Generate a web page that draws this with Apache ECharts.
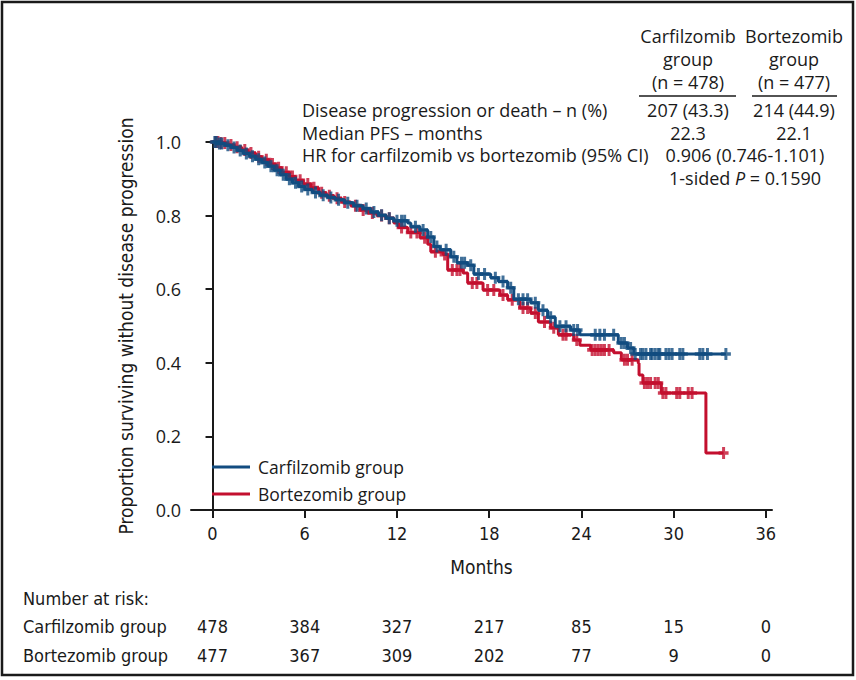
<!DOCTYPE html>
<html><head><meta charset="utf-8">
<script src="https://cdn.jsdelivr.net/npm/echarts@6/dist/echarts.min.js"></script>
<style>html,body{margin:0;padding:0;background:#fff}#c{width:856px;height:680px}</style>
</head><body><div id="c"></div>
<script>
const tickMonths = [0, 6, 12, 18, 24, 30, 36];
const riskCarfilzomib = [478, 384, 327, 217, 85, 15, 0];
const riskBortezomib = [477, 367, 309, 202, 77, 9, 0];
const seriesNames = ['Carfilzomib group', 'Bortezomib group'];

const carfilzomibCurve = [[0,1],[0.3,0.996],[0.8,0.991],[1.2,0.985],[1.6,0.977],[2.0,0.969],[2.4,0.961],[2.8,0.953],[3.2,0.944],[3.6,0.934],[4.0,0.923],[4.4,0.911],[4.8,0.899],[5.2,0.889],[5.6,0.879],[6.0,0.871],[6.5,0.863],[7.0,0.855],[7.5,0.849],[8.0,0.843],[8.6,0.835],[9.2,0.827],[9.8,0.819],[10.3,0.810],[10.8,0.801],[11.3,0.793],[11.8,0.786],[12.7,0.780],[12.9,0.770],[13.5,0.761],[14.0,0.742],[14.4,0.716],[14.8,0.707],[15.5,0.688],[15.9,0.672],[16.6,0.665],[17.0,0.641],[18.1,0.631],[18.6,0.621],[19.2,0.604],[19.6,0.573],[20.7,0.563],[21.2,0.543],[21.8,0.524],[22.3,0.499],[23.3,0.489],[23.9,0.476],[26.4,0.454],[27.0,0.440],[27.4,0.424],[33.4,0.424]];
const bortezomibCurve = [[0,1],[0.4,0.997],[0.9,0.992],[1.4,0.986],[1.9,0.978],[2.3,0.970],[2.8,0.960],[3.2,0.952],[3.7,0.940],[4.1,0.930],[4.5,0.918],[5.0,0.906],[5.4,0.896],[5.9,0.886],[6.4,0.876],[6.9,0.862],[7.4,0.854],[7.9,0.847],[8.4,0.837],[9.0,0.827],[9.6,0.815],[10.1,0.807],[10.7,0.800],[11.3,0.793],[11.8,0.780],[12.1,0.768],[12.7,0.754],[13.5,0.740],[14.0,0.722],[14.2,0.702],[15.0,0.694],[15.3,0.652],[16.3,0.644],[16.6,0.617],[17.6,0.598],[18.7,0.584],[19.2,0.571],[20.0,0.549],[20.7,0.535],[21.2,0.511],[22.0,0.495],[22.5,0.476],[23.5,0.462],[23.9,0.448],[24.6,0.435],[26.1,0.427],[26.6,0.408],[27.7,0.399],[27.75,0.367],[28.0,0.345],[29.2,0.318],[32.1,0.155],[33.25,0.155]];

const carfilzomibCensor = [0.15,0.25,0.45,0.6,1.0,1.4,1.8,2.2,2.6,3.0,3.4,3.8,4.2,4.6,5.0,5.4,5.8,6.2,6.7,7.2,7.7,8.2,8.8,9.4,10.0,10.5,11.0,11.5,12.0,12.3,12.5,13.2,13.7,14.2,14.6,15.2,15.7,16.2,16.4,16.8,17.3,17.7,18.4,18.9,19.4,19.9,20.2,20.5,21.0,21.5,22.0,22.6,23.0,23.5,23.75,24.9,25.2,25.5,26.1,26.6,26.8,27.2,27.5,27.85,28.0,28.2,28.5,28.6,28.8,29.0,29.1,29.5,29.7,29.9,30.4,30.6,31.7,31.9,32.2,33.4];
const bortezomibCensor = [0.2,0.35,0.55,0.8,1.2,1.6,2.1,2.5,3.0,3.5,3.9,4.3,4.8,5.2,5.7,6.2,6.6,7.1,7.6,8.1,8.6,9.3,9.8,10.4,11.0,11.5,12.3,12.9,13.3,13.8,14.5,15.1,15.6,15.9,16.1,16.9,17.2,17.9,18.3,18.9,19.5,20.2,20.5,21.0,21.6,22.2,22.8,23.0,23.7,24.7,24.9,25.1,25.3,25.5,25.8,26.8,27.0,27.3,28.1,28.3,28.5,28.8,29.0,29.3,29.5,30.2,30.4,30.95,31.2,33.25];

const BLUE = '#124c80';
const RED = '#c30f2e';
const INK = '#1a1a1a';
const FONT_MAIN = "'Open Sans', 'Noto Sans', sans-serif";
const FONT_COND = "'Liberation Sans Narrow', 'DejaVu Sans Condensed', 'DejaVu Sans', sans-serif";
const PLUS = 'path://M3.5,0H6.5V3.5H10V6.5H6.5V10H3.5V6.5H0V3.5H3.5Z';

function survAt(curve, t) {
  let s = 1;
  for (const [m, v] of curve) { if (m <= t) s = v; else break; }
  return s;
}
const censorPts = (curve, times) => times.map(t => [t, survAt(curve, t)]);

const chart = echarts.init(document.getElementById('c'), null, {renderer: 'svg'});

const option = {
  animation: false,
  backgroundColor: '#fff',
  grid: {left: 191, right: 84, top: 142, bottom: 170},
  legend: {
    data: seriesNames,
    orient: 'vertical', left: 212, top: 457, padding: 0,
    icon: 'rect', itemWidth: 38, itemHeight: 3, itemGap: 7,
    textStyle: {fontSize: 17.5, fontFamily: FONT_MAIN, color: INK, lineHeight: 20, padding: [0, 0, 0, 3]}
  },
  xAxis: {
    type: 'value', min: -1.4, max: 36.4,
    name: 'Months', nameLocation: 'middle', nameGap: 47,
    nameTextStyle: {fontSize: 19, fontFamily: FONT_COND, color: INK},
    axisLine: {onZero: false, lineStyle: {color: INK, width: 2}},
    axisTick: {show: true, length: 8, lineStyle: {color: INK, width: 2}, customValues: tickMonths},
    axisLabel: {fontSize: 18, fontFamily: FONT_COND, color: INK, margin: 14, customValues: tickMonths},
    splitLine: {show: false}
  },
  yAxis: {
    type: 'value', min: 0, max: 1, interval: 0.2,
    name: 'Proportion surviving without disease progression',
    nameLocation: 'middle', nameGap: 56,
    nameTextStyle: {fontSize: 19, fontFamily: FONT_COND, color: INK},
    axisLine: {show: true, lineStyle: {color: INK, width: 2}},
    axisTick: {show: true, length: 7, lineStyle: {color: INK, width: 2}},
    axisLabel: {fontSize: 18, fontFamily: FONT_MAIN, color: INK, margin: 10, formatter: v => v.toFixed(1)},
    splitLine: {show: false}
  },
  series: [
    {name: seriesNames[1], type: 'line', step: 'end', data: bortezomibCurve, showSymbol: false,
     lineStyle: {color: RED, width: 3}, itemStyle: {color: RED}, z: 2},
    {name: seriesNames[1] + ' censored', type: 'scatter', data: censorPts(bortezomibCurve, bortezomibCensor),
     symbol: PLUS, symbolSize: [10, 12], itemStyle: {color: RED}, z: 2},
    {name: seriesNames[0], type: 'line', step: 'end', data: carfilzomibCurve, showSymbol: false,
     lineStyle: {color: BLUE, width: 3}, itemStyle: {color: BLUE}, z: 3},
    {name: seriesNames[0] + ' censored', type: 'scatter', data: censorPts(carfilzomibCurve, carfilzomibCensor),
     symbol: PLUS, symbolSize: [10, 12], itemStyle: {color: BLUE}, z: 3}
  ]
};
chart.setOption(option);

function txt(text, x, y, opts) {
  return {type: 'text', x: x, y: y, style: Object.assign({
    text: text, fontSize: 18, fontFamily: FONT_MAIN, fill: INK, align: 'left', verticalAlign: 'middle'
  }, opts || {})};
}
const g = [];
g.push({type: 'rect', shape: {x: 2, y: 2, width: 851, height: 673}, style: {fill: 'none', stroke: INK, lineWidth: 2.5}, silent: true});
// summary table
const c1 = 688, c2 = 794;
[['Carfilzomib', 'Bortezomib', 36], ['group', 'group', 59], ['(n = 478)', '(n = 477)', 82]].forEach(r => {
  g.push(txt(r[0], c1, r[2], {align: 'center'}));
  g.push(txt(r[1], c2, r[2], {align: 'center'}));
});
g.push({type: 'line', shape: {x1: 639, y1: 96, x2: 736, y2: 96}, style: {stroke: INK, lineWidth: 1.5}});
g.push({type: 'line', shape: {x1: 752, y1: 96, x2: 837, y2: 96}, style: {stroke: INK, lineWidth: 1.5}});
g.push(txt('Disease progression or death \u2013 n (%)', 302, 110));
g.push(txt('207 (43.3)', c1, 110, {align: 'center'}));
g.push(txt('214 (44.9)', c2, 110, {align: 'center'}));
g.push(txt('Median PFS \u2013 months', 302, 133));
g.push(txt('22.3', c1, 133, {align: 'center'}));
g.push(txt('22.1', c2, 133, {align: 'center'}));
g.push(txt('HR for carfilzomib vs bortezomib (95% CI)', 302, 155));
g.push(txt('0.906 (0.746-1.101)', 745, 155, {align: 'center'}));
g.push(txt('1-sided {i|P} = 0.1590', 745, 178, {align: 'center', rich: {i: {fontStyle: 'italic', fontSize: 18, fontFamily: FONT_MAIN, fill: INK}}}));
// number at risk
g.push(txt('Number at risk:', 23, 598, {fontFamily: FONT_COND, fontSize: 18}));
g.push(txt(seriesNames[0], 23, 626, {fontFamily: FONT_COND, fontSize: 18}));
g.push(txt(seriesNames[1], 23, 655, {fontFamily: FONT_COND, fontSize: 18}));
tickMonths.forEach((m, i) => {
  const px = chart.convertToPixel({xAxisIndex: 0}, m);
  g.push(txt(String(riskCarfilzomib[i]), px, 626, {fontFamily: FONT_COND, fontSize: 18, align: 'center'}));
  g.push(txt(String(riskBortezomib[i]), px, 655, {fontFamily: FONT_COND, fontSize: 18, align: 'center'}));
});
chart.setOption({graphic: {elements: g}});
</script></body></html>
